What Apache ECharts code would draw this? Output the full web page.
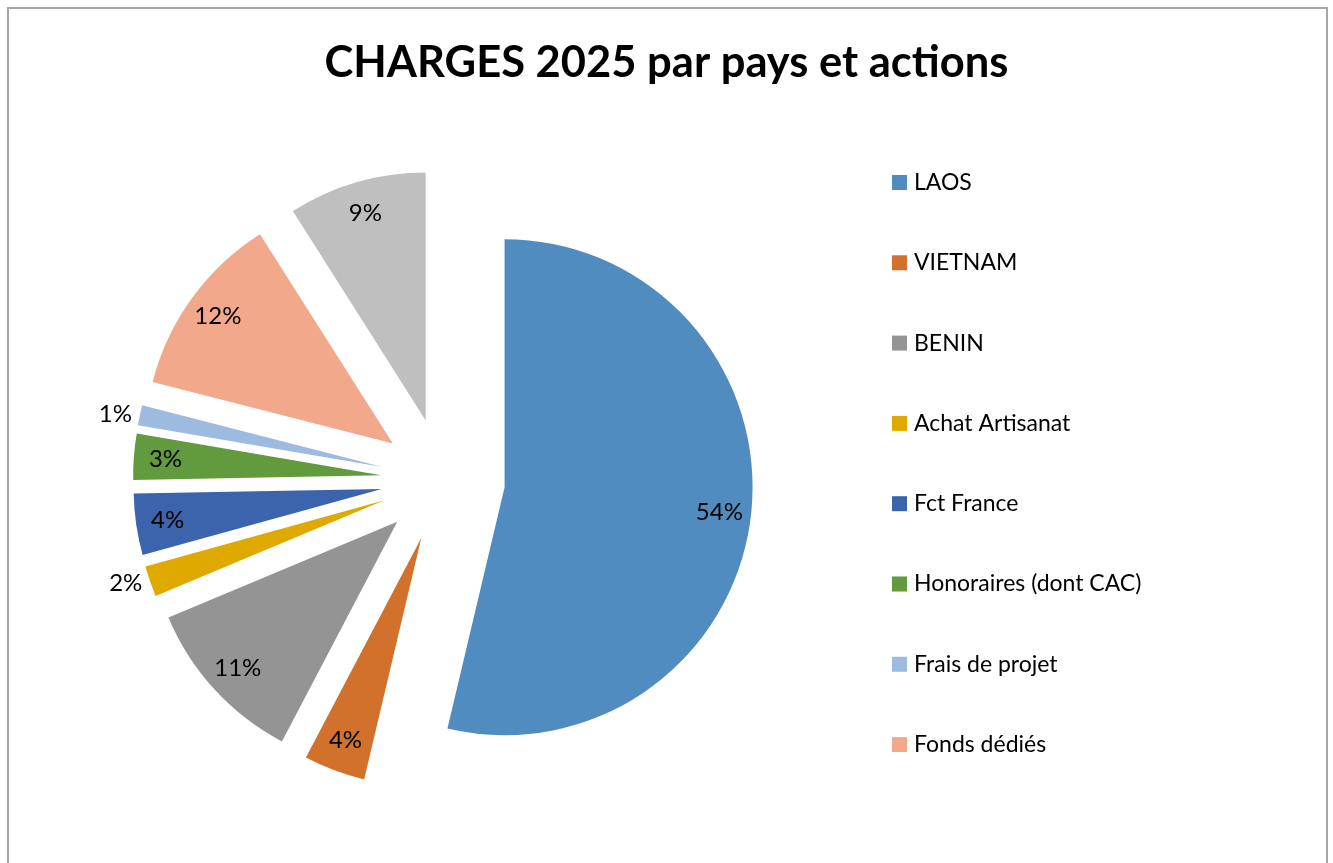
<!DOCTYPE html>
<html>
<head>
<meta charset="utf-8">
<script src="https://cdn.jsdelivr.net/npm/echarts@6/dist/echarts.min.js"></script>
<style>
html,body{margin:0;padding:0;background:#fff;}
#chart{width:1333px;height:863px;}
</style>
</head>
<body>
<div id="chart"></div>
<script>
const categories = ['LAOS', 'VIETNAM', 'BENIN', 'Achat Artisanat', 'Fct France', 'Honoraires (dont CAC)', 'Frais de projet', 'Fonds dédiés', 'Autres'];
const values = [53.7, 4, 11, 2, 4, 3, 1.3, 12, 9];
const legendNames = ['LAOS', 'VIETNAM', 'BENIN', 'Achat Artisanat', 'Fct France', 'Honoraires (dont CAC)', 'Frais de projet', 'Fonds dédiés'];
const colors = ['#508CC0', '#D2712B', '#949494', '#E0A900', '#3C64AC', '#629A3E', '#9DBBE1', '#F2A88A', '#BFBFBF'];
const outsideLabels = ['Achat Artisanat', 'Frais de projet'];

const FONT = 'Lato, "Open Sans", sans-serif';
const CENTER = [443, 480];
const R = 248;
const OFFSET = 62;

const sliceData = categories.map((n, i) => ({
  name: n, value: values[i], selected: true,
  itemStyle: { color: colors[i] }
}));
const labelData = categories.map((n, i) => ({
  name: n, value: values[i], selected: true,
  itemStyle: { color: 'rgba(0,0,0,0)', borderWidth: 0 },
  label: outsideLabels.includes(n) ? { position: 'outside' } : { position: 'inside' }
}));

const chart = echarts.init(document.getElementById('chart'), null, { renderer: 'canvas' });
chart.setOption({
  animation: false,
  color: colors,
  title: {
    text: 'CHARGES 2025 par pays et actions',
    left: 'center',
    top: 36,
    textStyle: { fontFamily: FONT, fontWeight: 'bold', fontSize: 43.5, color: '#000' }
  },
  legend: {
    data: legendNames,
    orient: 'vertical',
    left: 892,
    top: 171,
    padding: 0,
    itemWidth: 15,
    itemHeight: 15,
    itemGap: 57.3,
    icon: 'rect',
    selectedMode: false,
    textStyle: { fontFamily: FONT, fontSize: 23, lineHeight: 23, color: '#000', padding: [0, 0, 0, 2] }
  },
  graphic: [{
    type: 'rect', silent: true,
    shape: { x: 8, y: 8, width: 1319, height: 900 },
    style: { fill: 'none', stroke: '#A6A6A6', lineWidth: 2 }
  }],
  series: [{
    type: 'pie',
    center: CENTER,
    radius: R,
    startAngle: 90,
    clockwise: true,
    selectedMode: 'multiple',
    selectedOffset: OFFSET,
    avoidLabelOverlap: false,
    silent: true,
    label: { show: false },
    labelLine: { show: false },
    itemStyle: { borderWidth: 0 },
    select: { itemStyle: { borderWidth: 0 } },
    emphasis: { disabled: true },
    data: sliceData
  }, {
    type: 'pie',
    center: CENTER,
    radius: [R * 0.72, R],
    startAngle: 90,
    clockwise: true,
    selectedMode: 'multiple',
    selectedOffset: OFFSET,
    avoidLabelOverlap: false,
    silent: true,
    percentPrecision: 0,
    label: {
      show: true,
      formatter: '{d}%',
      fontFamily: FONT,
      fontSize: 24,
      color: '#000',
      distanceToLabelLine: 3
    },
    labelLine: { show: false, length: 5, length2: 0 },
    itemStyle: { borderWidth: 0 },
    select: { itemStyle: { borderWidth: 0, color: 'rgba(0,0,0,0)' } },
    emphasis: { disabled: true },
    data: labelData
  }]
});
</script>
</body>
</html>
